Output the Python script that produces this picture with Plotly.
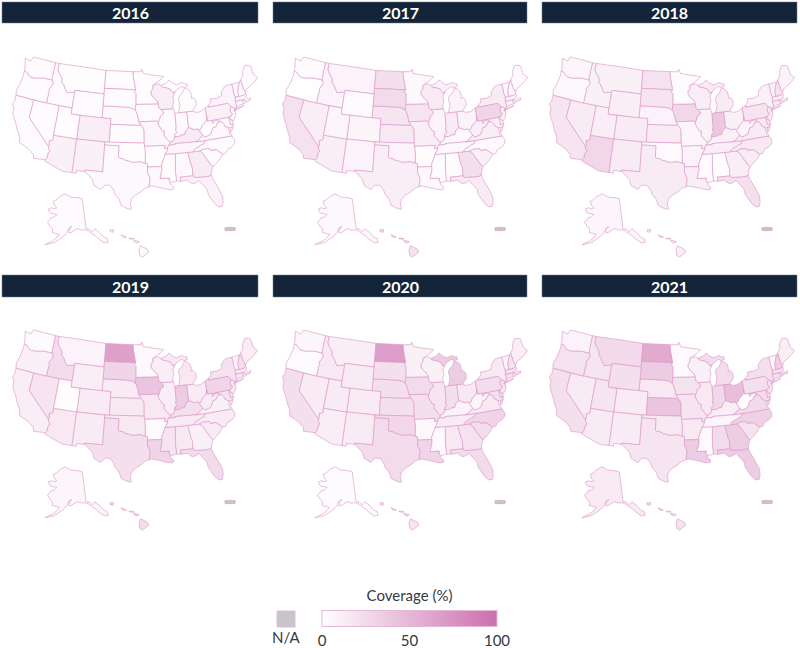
import plotly.graph_objects as go
from plotly.colors import sample_colorscale

# State coverage (%) by year
states = ["AL", "AK", "AZ", "AR", "CA", "CO", "CT", "DE", "DC", "FL", "GA", "HI", "ID",
          "IL", "IN", "IA", "KS", "KY", "LA", "ME", "MD", "MA", "MI", "MN", "MS", "MO",
          "MT", "NE", "NV", "NH", "NJ", "NM", "NY", "NC", "ND", "OH", "OK", "OR", "PA",
          "RI", "SC", "SD", "TN", "TX", "UT", "VT", "VA", "WA", "WV", "WI", "WY"]

years = ["2016", "2017", "2018", "2019", "2020", "2021"]

cov_2016 = [5, 3, 10, 2, 3, 12, 4, 4, 5, 8, 14, 3, 3,
            4, 4, 4, 3, 14, 5, 3, 5, 4, 2, 2, 2, 6,
            2, 5, 3, 4, 5, 10, 8, 3, 2, 4, 2, 3, 10,
            4, 3, 3, 6, 5, 2, 4, 5, 3, 2, 12, 3]
cov_2017 = [3, 5, 12, 2, 20, 7, 8, 8, 8, 14, 22, 20, 8,
            8, 14, 18, 15, 5, 5, 4, 10, 8, 8, 5, 3, 12,
            8, 18, 12, 6, 10, 8, 14, 4, 22, 8, 8, 1, 30,
            8, 10, 25, 5, 12, 6, 5, 12, 3, 12, 14, 3]
cov_2018 = [2, 6, 28, 8, 18, 14, 14, 12, 12, 22, 12, 12, 10,
            10, 38, 28, 14, 10, 12, 8, 16, 12, 14, 3, 3, 6,
            10, 8, 14, 20, 14, 14, 10, 16, 20, 10, 4, 5, 18,
            12, 14, 18, 12, 14, 12, 8, 14, 6, 8, 12, 12]
cov_2019 = [16, 6, 16, 4, 12, 14, 16, 14, 14, 25, 10, 24, 24,
            12, 36, 40, 16, 22, 30, 12, 20, 16, 16, 5, 18, 16,
            8, 14, 18, 22, 16, 14, 20, 14, 65, 14, 16, 10, 30,
            16, 14, 30, 14, 22, 2, 8, 10, 3, 14, 12, 12]
cov_2020 = [16, 3, 12, 5, 22, 14, 20, 20, 18, 25, 20, 18, 16,
            18, 22, 25, 22, 8, 30, 12, 22, 20, 35, 10, 4, 22,
            12, 22, 14, 20, 18, 14, 16, 30, 68, 16, 28, 3, 24,
            18, 24, 22, 14, 25, 14, 6, 16, 6, 6, 10, 14]
cov_2021 = [25, 14, 14, 16, 22, 14, 20, 20, 20, 35, 35, 20, 18,
            16, 28, 20, 40, 12, 35, 12, 24, 22, 24, 4, 4, 18,
            26, 16, 14, 34, 20, 14, 22, 32, 58, 45, 16, 20, 22,
            20, 20, 36, 6, 18, 18, 6, 25, 8, 3, 10, 22]

coverage = [cov_2016, cov_2017, cov_2018, cov_2019, cov_2020, cov_2021]

# Base geography: rough state outlines (lon, lat). No network here, so plotly's
# own usa topojson can't be fetched -- these stand in for it.
outlines = {
    "WA": [[[-124.7, 48.4], [-123.2, 48.2], [-122.8, 49.0], [-117.03, 49.0], [-117.03, 46.43], [-116.92, 46.0],
            [-119.0, 46.0], [-119.6, 45.9], [-121.2, 45.6], [-122.2, 45.6], [-122.8, 45.9], [-123.3, 46.2],
            [-124.0, 46.3], [-124.1, 46.9]]],
    "OR": [[[-124.0, 46.3], [-123.3, 46.2], [-122.8, 45.9], [-122.2, 45.6], [-121.2, 45.6], [-119.6, 45.9],
            [-119.0, 46.0], [-116.92, 46.0], [-116.5, 45.5], [-116.8, 44.9], [-117.2, 44.3], [-116.9, 44.0],
            [-117.03, 43.7], [-117.03, 42.0], [-124.2, 42.0], [-124.5, 42.8], [-124.1, 44.0], [-123.9, 45.5]]],
    "CA": [[[-124.2, 42.0], [-120.0, 42.0], [-120.0, 39.0], [-114.63, 35.0], [-114.57, 34.6], [-114.13, 34.27],
            [-114.44, 34.0], [-114.53, 33.0], [-114.72, 32.72], [-117.12, 32.53], [-117.3, 33.1], [-118.4, 33.8],
            [-119.2, 34.1], [-120.6, 34.5], [-120.9, 35.4], [-121.9, 36.6], [-122.5, 37.5], [-123.0, 38.0],
            [-123.7, 38.9], [-123.8, 39.8], [-124.4, 40.4], [-124.1, 41.0]]],
    "NV": [[[-120.0, 42.0], [-114.04, 42.0], [-114.04, 36.2], [-114.74, 36.0], [-114.57, 35.2], [-114.63, 35.0],
            [-120.0, 39.0]]],
    "ID": [[[-117.03, 49.0], [-116.05, 49.0], [-116.05, 47.98], [-115.7, 47.5], [-115.3, 47.2], [-114.6, 46.6],
            [-114.4, 45.9], [-113.9, 45.6], [-113.4, 45.0], [-112.8, 44.4], [-111.4, 44.7], [-111.05, 44.5],
            [-111.05, 42.0], [-117.03, 42.0], [-117.03, 43.7], [-116.9, 44.0], [-117.2, 44.3], [-116.8, 44.9],
            [-116.5, 45.5], [-116.92, 46.0], [-117.03, 46.43]]],
    "MT": [[[-116.05, 49.0], [-104.05, 49.0], [-104.05, 45.0], [-111.05, 45.0], [-111.05, 44.5], [-111.4, 44.7],
            [-112.8, 44.4], [-113.4, 45.0], [-113.9, 45.6], [-114.4, 45.9], [-114.6, 46.6], [-115.3, 47.2],
            [-115.7, 47.5], [-116.05, 47.98]]],
    "WY": [[[-111.05, 45.0], [-104.05, 45.0], [-104.05, 41.0], [-111.05, 41.0]]],
    "UT": [[[-114.04, 42.0], [-111.05, 42.0], [-111.05, 41.0], [-109.05, 41.0], [-109.05, 37.0], [-114.04, 37.0]]],
    "AZ": [[[-114.04, 37.0], [-109.05, 37.0], [-109.05, 31.33], [-111.07, 31.33], [-114.81, 32.49],
            [-114.72, 32.72], [-114.53, 33.0], [-114.44, 34.0], [-114.13, 34.27], [-114.57, 34.6], [-114.63, 35.0],
            [-114.57, 35.2], [-114.74, 36.0], [-114.04, 36.2]]],
    "CO": [[[-109.05, 41.0], [-102.05, 41.0], [-102.05, 37.0], [-109.05, 37.0]]],
    "NM": [[[-109.05, 37.0], [-103.0, 37.0], [-103.0, 32.0], [-106.62, 32.0], [-106.53, 31.78], [-108.21, 31.78],
            [-108.21, 31.33], [-109.05, 31.33]]],
    "ND": [[[-104.05, 49.0], [-97.23, 49.0], [-97.1, 48.0], [-96.8, 47.0], [-96.56, 45.94], [-104.05, 45.94]]],
    "SD": [[[-104.05, 45.94], [-96.56, 45.94], [-96.85, 45.6], [-96.45, 45.3], [-96.45, 43.5], [-96.6, 42.5],
            [-97.2, 42.85], [-98.5, 43.0], [-104.05, 43.0]]],
    "NE": [[[-104.05, 43.0], [-98.5, 43.0], [-97.2, 42.85], [-96.6, 42.5], [-96.4, 42.3], [-96.0, 41.5],
            [-95.9, 41.0], [-95.77, 40.58], [-95.31, 40.0], [-102.05, 40.0], [-102.05, 41.0], [-104.05, 41.0]]],
    "KS": [[[-102.05, 40.0], [-95.31, 40.0], [-94.9, 39.7], [-94.6, 39.1], [-94.62, 37.0], [-102.05, 37.0]]],
    "OK": [[[-103.0, 37.0], [-94.62, 37.0], [-94.43, 35.4], [-94.48, 33.64], [-95.5, 33.9], [-96.5, 33.8],
            [-97.2, 33.8], [-97.9, 34.0], [-98.5, 34.1], [-99.2, 34.4], [-99.7, 34.4], [-100.0, 34.56],
            [-100.0, 36.5], [-103.0, 36.5]]],
    "TX": [[[-106.62, 32.0], [-103.0, 32.0], [-103.0, 36.5], [-100.0, 36.5], [-100.0, 34.56], [-99.7, 34.4],
            [-99.2, 34.4], [-98.5, 34.1], [-97.9, 34.0], [-97.2, 33.8], [-96.5, 33.8], [-95.5, 33.9],
            [-94.48, 33.64], [-94.04, 33.55], [-94.04, 32.0], [-93.6, 31.2], [-93.7, 30.3], [-93.84, 29.7],
            [-94.7, 29.4], [-95.3, 28.9], [-96.4, 28.3], [-97.2, 27.6], [-97.4, 26.8], [-97.15, 25.95],
            [-97.5, 25.9], [-98.2, 26.1], [-99.1, 26.5], [-99.5, 27.5], [-100.3, 28.3], [-100.7, 29.1],
            [-101.4, 29.8], [-102.4, 29.8], [-103.1, 29.0], [-103.8, 29.3], [-104.5, 29.6], [-104.9, 30.6],
            [-106.0, 31.4], [-106.53, 31.78]]],
    "MN": [[[-97.23, 49.0], [-95.15, 49.0], [-95.15, 49.38], [-94.8, 49.3], [-94.6, 48.7], [-93.5, 48.55],
            [-92.0, 48.35], [-90.0, 48.1], [-89.5, 48.0], [-90.8, 47.3], [-92.1, 46.75], [-92.3, 46.6],
            [-92.3, 46.1], [-92.8, 45.6], [-92.75, 45.1], [-92.3, 44.6], [-91.4, 44.0], [-91.2, 43.5],
            [-96.45, 43.5], [-96.45, 45.3], [-96.85, 45.6], [-96.56, 45.94], [-96.8, 47.0], [-97.1, 48.0]]],
    "IA": [[[-96.45, 43.5], [-91.2, 43.5], [-91.1, 42.8], [-90.65, 42.5], [-90.2, 42.1], [-90.15, 41.8],
            [-90.9, 41.4], [-91.1, 40.9], [-91.42, 40.38], [-91.73, 40.61], [-95.77, 40.58], [-95.9, 41.0],
            [-96.0, 41.5], [-96.4, 42.3], [-96.6, 42.5]]],
    "MO": [[[-95.77, 40.58], [-91.73, 40.61], [-91.42, 40.38], [-91.4, 40.0], [-91.0, 39.4], [-90.6, 38.9],
            [-90.18, 38.8], [-90.35, 38.2], [-89.5, 37.3], [-89.1, 36.95], [-89.2, 36.6], [-89.5, 36.5],
            [-89.7, 36.0], [-90.37, 36.0], [-90.15, 36.5], [-94.62, 36.5], [-94.62, 37.0], [-94.6, 39.1],
            [-94.9, 39.7], [-95.31, 40.0]]],
    "AR": [[[-94.62, 36.5], [-90.15, 36.5], [-90.37, 36.0], [-89.7, 36.0], [-89.9, 35.5], [-90.3, 35.0],
            [-90.6, 34.4], [-91.1, 33.5], [-91.15, 33.0], [-94.04, 33.0], [-94.04, 33.55], [-94.48, 33.64],
            [-94.43, 35.4]]],
    "LA": [[[-94.04, 33.0], [-91.15, 33.0], [-91.1, 32.5], [-91.4, 31.6], [-91.6, 31.0], [-89.73, 31.0],
            [-89.84, 30.7], [-89.6, 30.2], [-89.7, 30.0], [-89.2, 29.6], [-89.0, 29.2], [-89.4, 29.0],
            [-90.2, 29.1], [-91.0, 29.3], [-91.8, 29.5], [-92.3, 29.6], [-93.3, 29.8], [-93.84, 29.7],
            [-93.7, 30.3], [-93.6, 31.2], [-94.04, 32.0]]],
    "MS": [[[-90.3, 35.0], [-88.2, 35.0], [-88.47, 31.9], [-88.4, 30.4], [-89.6, 30.2], [-89.84, 30.7],
            [-89.73, 31.0], [-91.6, 31.0], [-91.4, 31.6], [-91.1, 32.5], [-91.15, 33.0], [-91.1, 33.5],
            [-90.6, 34.4]]],
    "AL": [[[-88.2, 35.0], [-85.6, 35.0], [-85.18, 32.8], [-85.0, 32.3], [-85.1, 31.6], [-85.0, 31.0],
            [-87.6, 31.0], [-87.5, 30.3], [-88.4, 30.4], [-88.47, 31.9]]],
    "GA": [[[-85.6, 35.0], [-83.1, 35.0], [-82.6, 34.6], [-82.2, 34.0], [-81.9, 33.5], [-81.4, 32.7],
            [-80.9, 32.05], [-81.2, 31.6], [-81.5, 30.7], [-82.0, 30.6], [-82.2, 30.57], [-84.86, 30.7],
            [-85.0, 31.0], [-85.1, 31.6], [-85.0, 32.3], [-85.18, 32.8]]],
    "FL": [[[-87.6, 31.0], [-85.0, 31.0], [-84.86, 30.7], [-82.2, 30.57], [-82.0, 30.6], [-81.5, 30.7],
            [-81.3, 30.0], [-80.6, 28.5], [-80.0, 26.9], [-80.1, 25.8], [-80.4, 25.2], [-81.0, 25.2],
            [-81.7, 25.9], [-82.0, 26.5], [-82.6, 27.5], [-82.7, 28.5], [-83.3, 29.2], [-84.0, 30.1],
            [-84.7, 29.8], [-85.4, 29.7], [-86.3, 30.4], [-87.5, 30.3]]],
    "SC": [[[-83.1, 35.0], [-82.4, 35.2], [-81.0, 35.15], [-80.9, 34.8], [-79.7, 34.8], [-78.55, 33.86],
            [-79.2, 33.2], [-80.0, 32.6], [-80.9, 32.05], [-81.4, 32.7], [-81.9, 33.5], [-82.2, 34.0],
            [-82.6, 34.6]]],
    "NC": [[[-84.32, 35.0], [-83.1, 35.0], [-82.4, 35.2], [-81.0, 35.15], [-80.9, 34.8], [-79.7, 34.8],
            [-78.55, 33.86], [-77.9, 33.9], [-77.4, 34.5], [-76.5, 34.7], [-75.7, 35.2], [-75.5, 35.8],
            [-75.87, 36.55], [-81.68, 36.59], [-82.0, 36.1], [-82.6, 36.0], [-83.1, 35.75], [-83.9, 35.5],
            [-84.3, 35.25]]],
    "TN": [[[-90.3, 35.0], [-88.2, 35.0], [-85.6, 35.0], [-84.32, 35.0], [-84.3, 35.25], [-83.9, 35.5],
            [-83.1, 35.75], [-82.6, 36.0], [-82.0, 36.1], [-81.68, 36.59], [-83.68, 36.6], [-88.07, 36.68],
            [-88.05, 36.5], [-89.5, 36.5], [-89.7, 36.0], [-89.9, 35.5]]],
    "KY": [[[-89.5, 36.5], [-88.05, 36.5], [-88.07, 36.68], [-83.68, 36.6], [-83.0, 36.85], [-82.5, 37.2],
            [-82.0, 37.55], [-82.6, 38.42], [-82.8, 38.7], [-83.6, 38.65], [-84.3, 38.95], [-84.82, 39.1],
            [-85.4, 38.7], [-85.9, 38.0], [-86.5, 38.0], [-87.1, 37.8], [-88.03, 37.8], [-88.1, 37.5],
            [-88.5, 37.1], [-89.1, 36.95], [-89.2, 36.6]]],
    "IL": [[[-90.65, 42.5], [-87.8, 42.5], [-87.52, 41.7], [-87.53, 39.35], [-87.7, 38.9], [-87.5, 38.5],
            [-87.95, 38.2], [-88.03, 37.8], [-88.1, 37.5], [-88.5, 37.1], [-89.1, 36.95], [-89.5, 37.3],
            [-90.35, 38.2], [-90.18, 38.8], [-90.6, 38.9], [-91.0, 39.4], [-91.4, 40.0], [-91.42, 40.38],
            [-91.1, 40.9], [-90.9, 41.4], [-90.15, 41.8], [-90.2, 42.1]]],
    "IN": [[[-87.52, 41.7], [-86.8, 41.76], [-84.8, 41.76], [-84.82, 39.1], [-85.4, 38.7], [-85.9, 38.0],
            [-86.5, 38.0], [-87.1, 37.8], [-88.03, 37.8], [-87.95, 38.2], [-87.5, 38.5], [-87.7, 38.9],
            [-87.53, 39.35]]],
    "OH": [[[-84.8, 41.76], [-83.45, 41.73], [-82.7, 41.45], [-81.7, 41.5], [-80.52, 41.98], [-80.52, 40.64],
            [-80.65, 40.1], [-80.85, 39.7], [-81.4, 39.35], [-81.75, 39.2], [-82.2, 38.6], [-82.6, 38.42],
            [-82.8, 38.7], [-83.6, 38.65], [-84.3, 38.95], [-84.82, 39.1]]],
    "MI": [[[-86.8, 41.76], [-84.8, 41.76], [-83.45, 41.73], [-83.1, 42.1], [-82.5, 42.6], [-82.4, 43.0],
            [-82.5, 43.6], [-82.9, 44.0], [-83.4, 43.9], [-83.3, 44.4], [-83.4, 45.05], [-84.0, 45.5],
            [-84.7, 45.8], [-85.0, 45.4], [-85.4, 44.9], [-86.2, 44.5], [-86.4, 43.9], [-86.2, 43.0],
            [-86.5, 42.2]],
           [[-90.4, 46.57], [-89.0, 46.9], [-88.2, 47.4], [-87.6, 46.9], [-86.6, 46.45], [-85.0, 46.75],
            [-84.6, 46.45], [-84.1, 46.5], [-83.9, 46.0], [-84.7, 45.85], [-85.5, 46.1], [-86.6, 45.6],
            [-87.6, 45.1], [-87.8, 45.35], [-88.1, 45.8], [-88.7, 46.0], [-90.1, 46.3]]],
    "WI": [[[-92.3, 46.6], [-91.0, 46.9], [-90.4, 46.57], [-90.1, 46.3], [-88.7, 46.0], [-88.1, 45.8],
            [-87.8, 45.35], [-87.6, 45.1], [-87.0, 45.3], [-87.7, 44.5], [-87.5, 43.8], [-87.9, 43.0],
            [-87.8, 42.5], [-90.65, 42.5], [-91.1, 42.8], [-91.2, 43.5], [-91.4, 44.0], [-92.3, 44.6],
            [-92.75, 45.1], [-92.8, 45.6], [-92.3, 46.1]]],
    "PA": [[[-80.52, 41.98], [-79.76, 42.27], [-79.76, 42.0], [-75.35, 42.0], [-75.1, 41.8], [-74.7, 41.35],
            [-75.1, 40.9], [-75.05, 40.4], [-74.72, 40.15], [-75.4, 39.83], [-75.78, 39.72], [-80.52, 39.72],
            [-80.52, 40.64]]],
    "NY": [[[-79.76, 42.0], [-79.76, 42.27], [-79.0, 42.8], [-79.0, 43.3], [-77.5, 43.25], [-76.3, 43.5],
            [-76.2, 44.1], [-75.3, 44.8], [-74.7, 45.0], [-73.35, 45.0], [-73.3, 44.2], [-73.4, 43.6],
            [-73.25, 42.75], [-73.5, 42.05], [-73.48, 41.2], [-73.65, 41.0], [-73.9, 40.8], [-74.0, 40.6],
            [-74.25, 40.5], [-74.2, 40.65], [-73.95, 41.0], [-74.7, 41.35], [-75.1, 41.8], [-75.35, 42.0]],
           [[-74.0, 40.6], [-72.0, 40.95], [-71.9, 41.07], [-72.7, 40.95], [-73.8, 40.8]]],
    "NJ": [[[-74.7, 41.35], [-73.95, 41.0], [-74.2, 40.65], [-74.25, 40.5], [-74.0, 40.4], [-74.1, 39.8],
            [-74.5, 39.3], [-74.95, 38.93], [-75.4, 39.4], [-75.55, 39.6], [-74.72, 40.15], [-75.05, 40.4],
            [-75.1, 40.9]]],
    "DE": [[[-75.78, 39.72], [-75.4, 39.83], [-75.55, 39.6], [-75.4, 39.25], [-75.05, 38.8], [-75.05, 38.45],
            [-75.7, 38.45]]],
    "MD": [[[-79.48, 39.72], [-75.78, 39.72], [-75.7, 38.45], [-75.05, 38.45], [-75.24, 38.03], [-75.9, 37.95],
            [-76.3, 38.0], [-77.0, 38.4], [-77.1, 38.8], [-77.5, 39.2], [-77.8, 39.3], [-78.3, 39.6],
            [-78.8, 39.6], [-79.48, 39.2]]],
    "DC": [[[-77.12, 38.93], [-77.04, 39.0], [-76.91, 38.9], [-77.04, 38.8]]],
    "WV": [[[-80.52, 39.72], [-79.48, 39.72], [-79.48, 39.2], [-78.8, 39.6], [-78.3, 39.6], [-77.8, 39.3],
            [-78.4, 39.2], [-78.9, 38.6], [-79.6, 38.5], [-80.0, 37.9], [-80.3, 37.5], [-81.0, 37.3],
            [-81.7, 37.2], [-82.0, 37.55], [-82.6, 38.42], [-82.2, 38.6], [-81.75, 39.2], [-81.4, 39.35],
            [-80.85, 39.7], [-80.65, 40.1], [-80.52, 40.64]]],
    "VA": [[[-83.68, 36.6], [-81.68, 36.59], [-75.87, 36.55], [-76.0, 36.9], [-76.3, 37.0], [-76.3, 38.0],
            [-77.0, 38.4], [-77.1, 38.8], [-77.5, 39.2], [-77.8, 39.3], [-78.4, 39.2], [-78.9, 38.6],
            [-79.6, 38.5], [-80.0, 37.9], [-80.3, 37.5], [-81.0, 37.3], [-81.7, 37.2], [-82.0, 37.55],
            [-82.5, 37.2], [-83.0, 36.85]],
           [[-75.24, 38.03], [-75.9, 37.95], [-76.0, 37.15], [-75.7, 37.4]]],
    "CT": [[[-73.5, 42.05], [-71.8, 42.02], [-71.8, 41.33], [-72.9, 41.25], [-73.65, 41.0], [-73.48, 41.2]]],
    "RI": [[[-71.8, 42.02], [-71.38, 42.02], [-71.3, 41.75], [-71.12, 41.5], [-71.5, 41.37], [-71.8, 41.33]]],
    "MA": [[[-73.5, 42.05], [-73.25, 42.75], [-72.46, 42.73], [-71.3, 42.7], [-70.8, 42.87], [-70.6, 42.6],
            [-71.0, 42.3], [-70.5, 41.8], [-70.0, 42.05], [-69.95, 41.65], [-70.6, 41.55], [-71.12, 41.5],
            [-71.3, 41.75], [-71.38, 42.02], [-71.8, 42.02]]],
    "VT": [[[-73.35, 45.0], [-71.5, 45.01], [-72.0, 44.3], [-72.4, 43.6], [-72.46, 42.73], [-73.25, 42.75],
            [-73.4, 43.6], [-73.3, 44.2]]],
    "NH": [[[-71.5, 45.01], [-71.08, 45.3], [-70.98, 43.8], [-70.7, 43.08], [-70.8, 42.87], [-71.3, 42.7],
            [-72.46, 42.73], [-72.4, 43.6], [-72.0, 44.3]]],
    "ME": [[[-71.08, 45.3], [-70.3, 45.9], [-70.0, 46.7], [-69.2, 47.45], [-68.3, 47.35], [-67.8, 47.07],
            [-67.8, 45.7], [-67.0, 44.9], [-68.0, 44.4], [-69.0, 44.0], [-70.2, 43.6], [-70.7, 43.08],
            [-70.98, 43.8]]],
    "AK": [[[-141.0, 69.65], [-141.0, 60.3], [-139.0, 60.0], [-137.5, 59.0], [-135.5, 59.8], [-133.5, 58.5],
            [-131.5, 56.6], [-130.0, 55.9], [-130.0, 54.7], [-132.0, 54.8], [-134.0, 56.0], [-136.0, 57.5],
            [-137.5, 58.3], [-139.8, 59.5], [-142.0, 60.0], [-144.0, 60.0], [-146.5, 60.5], [-148.5, 59.9],
            [-150.4, 59.3], [-151.8, 59.2], [-151.4, 60.7], [-150.0, 61.2], [-152.0, 60.5], [-153.0, 59.2],
            [-154.2, 58.4], [-156.0, 57.5], [-158.0, 56.5], [-160.0, 55.6], [-162.5, 55.0], [-164.5, 54.5],
            [-163.0, 55.3], [-161.0, 56.0], [-158.5, 57.5], [-157.5, 58.5], [-159.0, 58.6], [-161.8, 58.7],
            [-162.0, 59.8], [-164.0, 60.5], [-165.3, 61.1], [-166.2, 61.5], [-165.0, 62.5], [-164.5, 63.2],
            [-162.5, 63.5], [-161.0, 64.5], [-162.6, 64.5], [-165.0, 64.5], [-166.5, 64.7], [-168.0, 65.6],
            [-166.0, 66.2], [-163.8, 66.1], [-162.0, 66.5], [-164.0, 67.0], [-166.0, 68.3], [-163.5, 69.0],
            [-161.0, 70.3], [-156.8, 71.3], [-154.0, 70.9], [-151.5, 70.4], [-148.0, 70.3], [-144.0, 70.1]]],
    "HI": [[[-155.85, 20.27], [-155.0, 19.85], [-154.8, 19.5], [-155.6, 18.9], [-155.95, 19.1], [-156.05, 19.75]],
           [[-156.7, 20.95], [-156.0, 20.75], [-156.4, 20.58], [-156.7, 20.8]],
           [[-157.3, 21.2], [-156.7, 21.15], [-156.75, 21.05], [-157.3, 21.1]],
           [[-158.3, 21.6], [-157.65, 21.3], [-158.1, 21.3], [-158.25, 21.45]],
           [[-159.75, 22.2], [-159.3, 22.2], [-159.35, 21.9], [-159.75, 21.95]]],
}
# Puerto Rico has no data (N/A)
pr_outline = [[-67.27, 18.37], [-66.5, 18.48], [-65.6, 18.38], [-65.63, 18.0], [-66.0, 17.95], [-67.2, 17.95]]


def clockwise(ring):
    # d3-geo wants small exterior rings clockwise, otherwise it fills the outside
    area = sum(x0 * y1 - x1 * y0 for (x0, y0), (x1, y1) in zip(ring, ring[1:] + ring[:1]))
    ring = ring if area < 0 else ring[::-1]
    return ring + [ring[0]]


W, H = 800, 648
navy = "#14253a"
line_pink = "#dc94c8"
na_grey = "#c6c6c8"
text_col = "#333a44"
font_family = "Lato, 'Open Sans', sans-serif"
pink_scale = [[0, "#ffffff"], [1, "#cc6fae"]]

# panel layout in pixels
col_left = [0, 270, 537]
row_top = [0, 273]
header_x = [(2, 258), (273, 527), (542, 797)]
header_y = [(2, 23), (275, 297)]

# each panel: lower 48 plus Alaska, Hawaii and Puerto Rico insets
# (pixel box inside the panel, projection settings)
views = {
    "main": dict(box=(7, 263, 49, 217),
                 projection=dict(type="albers", rotation=dict(lon=-96), parallels=[29.5, 45.5], scale=1.266),
                 lonaxis=dict(range=[-125, -66.5]), lataxis=dict(range=[22, 55]),
                 center=dict(lon=-96.6, lat=38.7)),
    "ak": dict(box=(36, 110, 192, 251),
               projection=dict(type="albers", rotation=dict(lon=-149.25), parallels=[55, 65]),
               lonaxis=dict(range=[-169, -129.5]), lataxis=dict(range=[54, 71.5])),
    "hi": dict(box=(109, 154, 228, 258),
               projection=dict(type="albers", rotation=dict(lon=-157), parallels=[8, 18]),
               lonaxis=dict(range=[-160.3, -154.6]), lataxis=dict(range=[18.8, 22.4])),
    "pr": dict(box=(224, 236, 226, 232),
               projection=dict(type="mercator"),
               lonaxis=dict(range=[-67.4, -65.5]), lataxis=dict(range=[17.8, 18.6])),
}
view_of = {"AK": "ak", "HI": "hi"}


def domain(x0, x1, y0, y1):
    return dict(x=[x0 / W, x1 / W], y=[1 - y1 / H, 1 - y0 / H])


fig = go.Figure()
layout_geos = {}
shapes = []
annotations = []
n_geo = 0


def add_ring(ring, fill, geo_name, label):
    ring = clockwise(ring)
    fig.add_trace(go.Scattergeo(
        lon=[p[0] for p in ring],
        lat=[p[1] for p in ring],
        mode="lines",
        fill="toself",
        fillcolor=fill,
        line=dict(color=line_pink, width=0.6),
        geo=geo_name,
        hoverinfo="text",
        text=label,
        showlegend=False,
    ))


for i, (yr, vals) in enumerate(zip(years, coverage)):
    r, c = divmod(i, 3)
    geo_ids = {}
    for key, v in views.items():
        n_geo += 1
        geo_name = "geo" if n_geo == 1 else f"geo{n_geo}"
        geo_ids[key] = geo_name
        x0, x1, y0, y1 = v["box"]
        layout_geos[geo_name] = dict(
            domain=domain(col_left[c] + x0, col_left[c] + x1, row_top[r] + y0, row_top[r] + y1),
            projection=v["projection"],
            lonaxis=v["lonaxis"],
            lataxis=v["lataxis"],
            showland=False, showlakes=False, showsubunits=False, showcoastlines=False,
            showocean=False, showrivers=False, showcountries=False, showframe=False,
            bgcolor="rgba(0,0,0,0)",
        )
        if "center" in v:
            layout_geos[geo_name]["center"] = v["center"]

    fills = sample_colorscale(pink_scale, [v / 100 for v in vals])
    for code, v, fill in zip(states, vals, fills):
        for ring in outlines[code]:
            add_ring(ring, fill, geo_ids[view_of.get(code, "main")], f"{code} {yr}: {v}%")
    add_ring(pr_outline, na_grey, geo_ids["pr"], f"PR {yr}: N/A")

    hx0, hx1 = header_x[c]
    hy0, hy1 = header_y[r]
    shapes.append(dict(type="rect", xref="paper", yref="paper",
                       x0=hx0 / W, x1=hx1 / W, y0=1 - hy1 / H, y1=1 - hy0 / H,
                       fillcolor=navy, line=dict(color="#6f7f90", width=0.5)))
    annotations.append(dict(text=f"<b>{yr}</b>", xref="paper", yref="paper",
                            x=(hx0 + hx1) / 2 / W, y=1 - (hy0 + hy1) / 2 / H,
                            xanchor="center", yanchor="middle", showarrow=False,
                            font=dict(color="white", size=16, family=font_family)))

# invisible carrier for the shared colour bar
fig.add_trace(go.Scatter(
    x=[None, None], y=[None, None], mode="markers",
    marker=dict(color=[0, 100], coloraxis="coloraxis"),
    showlegend=False, hoverinfo="skip",
))

# N/A swatch next to the colour bar
shapes.append(dict(type="rect", xref="paper", yref="paper",
                   x0=277 / W, x1=295 / W, y0=1 - 627 / H, y1=1 - 611 / H,
                   fillcolor=na_grey, line=dict(color="#e6b8da", width=1)))
annotations.append(dict(text="N/A", xref="paper", yref="paper",
                        x=286 / W, y=1 - 637 / H, xanchor="center", yanchor="middle",
                        showarrow=False,
                        font=dict(color=text_col, size=15, family=font_family)))

fig.update_layout(
    width=W,
    height=H,
    margin=dict(l=0, r=0, t=0, b=0),
    paper_bgcolor="white",
    plot_bgcolor="white",
    font=dict(family=font_family, color=text_col),
    showlegend=False,
    xaxis=dict(visible=False),
    yaxis=dict(visible=False),
    coloraxis=dict(
        cmin=0,
        cmax=100,
        colorscale=pink_scale,
        colorbar=dict(
            orientation="h",
            x=409.5 / W, xanchor="center",
            y=1 - 619 / H, yanchor="middle",
            len=175 / W, lenmode="fraction",
            xpad=0, ypad=0,
            thickness=16, thicknessmode="pixels",
            outlinecolor="#e6b8da", outlinewidth=1,
            tickvals=[0, 50, 100],
            ticks="",
            tickfont=dict(size=15, family=font_family, color=text_col),
            title=dict(text="Coverage (%)", side="top",
                       font=dict(size=15, family=font_family, color=text_col)),
        ),
    ),
    shapes=shapes,
    annotations=annotations,
    **layout_geos,
)

# the page body has a default 8px margin; drop it so the figure sits at the corner
fig.write_html("out.html", config={"displayModeBar": False},
               post_script="document.body.style.margin = '0px';")
